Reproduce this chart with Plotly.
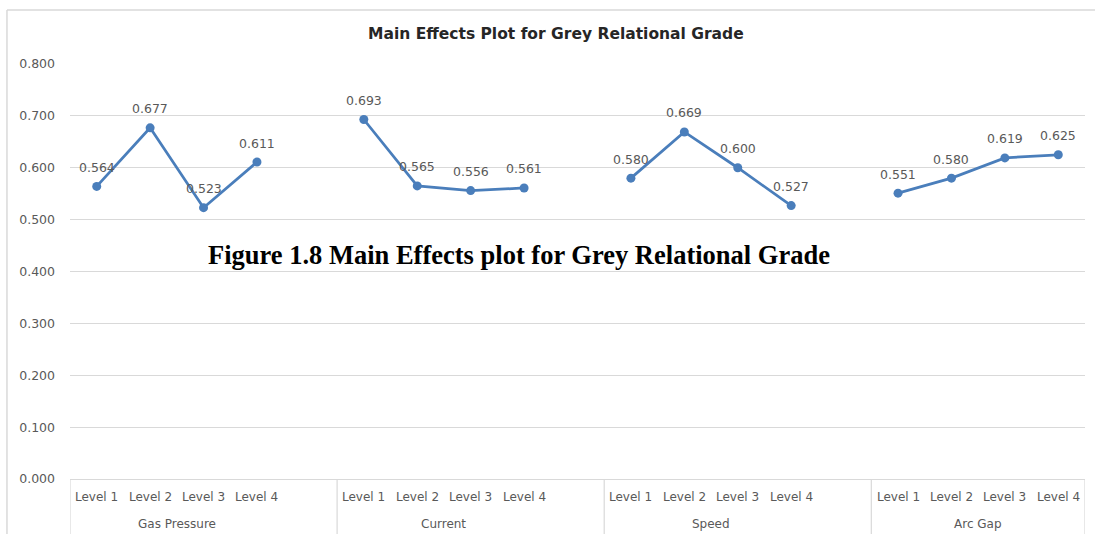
import plotly.graph_objects as go

# ---- data ----
factors = ["Gas Pressure", "Current", "Speed", "Arc Gap"]
levels = ["Level 1", "Level 2", "Level 3", "Level 4"]
gas_pressure = [0.564, 0.677, 0.523, 0.611]
current = [0.693, 0.565, 0.556, 0.561]
speed = [0.580, 0.669, 0.600, 0.527]
arc_gap = [0.551, 0.580, 0.619, 0.625]
y_ticks = [0.0, 0.1, 0.2, 0.3, 0.4, 0.5, 0.6, 0.7, 0.8]
title_text = "Main Effects Plot for Grey Relational Grade"
caption_text = "Figure 1.8 Main Effects plot for Grey Relational Grade"

series = [gas_pressure, current, speed, arc_gap]

LINE = "#4a7ebb"
GRID = "#d9d9d9"
TXT = "#595959"
FONT = "DejaVu Sans"

fig = go.Figure()
annotations = []
shapes = []

group_slots = 5  # 4 levels + 1 blank slot between groups
for gi, (name, vals) in enumerate(zip(factors, series)):
    xs = [gi * group_slots + li for li in range(len(levels))]
    fig.add_trace(go.Scatter(
        x=xs, y=vals, mode="lines+markers", name=name,
        line=dict(color=LINE, width=2.75),
        marker=dict(color=LINE, size=9),
        showlegend=False, hoverinfo="x+y",
    ))
    for x, v in zip(xs, vals):
        annotations.append(dict(
            x=x, y=v, xref="x", yref="y", text=f"{v:.3f}", showarrow=False,
            yshift=19, font=dict(family=FONT, size=12.5, color=TXT),
            xanchor="center", yanchor="middle"))
    for x, lab in zip(xs, levels):
        annotations.append(dict(
            x=x, y=0, xref="x", yref="paper", text=lab, showarrow=False,
            yshift=-18, font=dict(family=FONT, size=12, color=TXT),
            xanchor="center", yanchor="middle"))
    annotations.append(dict(
        x=(xs[0] + xs[-1]) / 2, y=0, xref="x", yref="paper", text=name,
        showarrow=False, yshift=-45, font=dict(family=FONT, size=12, color=TXT),
        xanchor="center", yanchor="middle"))

n_slots = group_slots * (len(factors) - 1) + len(levels)
seps = [-0.5 + gi * group_slots for gi in range(len(factors))] + [n_slots - 0.5]
for s in seps:
    shapes.append(dict(type="line", xref="x", yref="paper", x0=s, x1=s,
                       y0=0, y1=-0.2, line=dict(color=GRID, width=1.2)))

# chart frame (left and top edges visible)
shapes.append(dict(type="line", xref="paper", yref="paper", x0=-0.0621, x1=-0.0621,
                   y0=1.1301, y1=-0.2, line=dict(color=GRID, width=1.5)))
shapes.append(dict(type="line", xref="paper", yref="paper", x0=-0.0621, x1=1.1,
                   y0=1.1301, y1=1.1301, line=dict(color=GRID, width=1.5)))

annotations.append(dict(
    x=(556 - 70) / 1015, y=(479 - 34) / 415, xref="paper", yref="paper",
    text=f"<b>{title_text}</b>", showarrow=False,
    font=dict(family=FONT, size=15.5, color="#262626"),
    xanchor="center", yanchor="middle"))

annotations.append(dict(
    x=(519 - 70) / 1015, y=(479 - 255) / 415, xref="paper", yref="paper",
    text=f"<b>{caption_text}</b>", showarrow=False,
    font=dict(family="Liberation Serif", size=26.5, color="#000000"),
    xanchor="center", yanchor="middle"))

fig.update_layout(
    width=1095, height=534,
    margin=dict(l=70, r=10, t=64, b=55),
    paper_bgcolor="white", plot_bgcolor="white",
    xaxis=dict(range=[-0.5, n_slots - 0.5], showticklabels=False, showgrid=False,
               zeroline=False, showline=True, linecolor=GRID, linewidth=1.2,
               fixedrange=True),
    yaxis=dict(range=[0, 0.8], tickvals=y_ticks, ticktext=[f"{t:.3f}" for t in y_ticks],
               showgrid=True, gridcolor=GRID, gridwidth=1, zeroline=False,
               showline=False, ticks="", ticklabelstandoff=14,
               tickfont=dict(family=FONT, size=12.5, color=TXT), fixedrange=True),
    annotations=annotations, shapes=shapes,
)

fig.write_html(
    "out.html",
    config={"displayModeBar": False},
    post_script="document.body.style.margin='0';document.body.style.padding='0';"
                "document.body.style.overflow='hidden';",
)
